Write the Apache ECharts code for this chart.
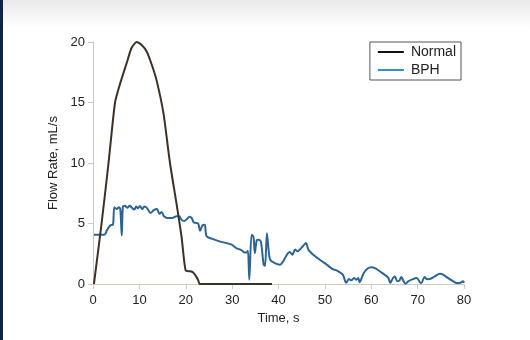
<!DOCTYPE html>
<html>
<head>
<meta charset="utf-8">
<style>
  html, body { margin: 0; padding: 0; background: #ffffff; }
  #chart { width: 530px; height: 340px; }
</style>
<script src="https://cdn.jsdelivr.net/npm/echarts@6/dist/echarts.min.js"></script>
</head>
<body>
<div id="chart"></div>
<script>
// Uroflowmetry curves: flow rate (mL/s) against time (s)
const normalTime = [0.2, 1.85, 3.35, 4.75, 5.8, 7.3, 8.3, 9.4, 10.5, 11.6, 12.6, 13.7, 15.2, 16.6, 18.0, 19.1, 20.0, 21.0, 21.6, 22.2, 22.7, 23.0, 38.6];
const normalFlow = [0, 5, 10, 15, 16.5, 18.3, 19.5, 20, 19.75, 19.2, 18.2, 16.85, 14.1, 10, 6.66, 3.9, 1.1, 1.05, 0.95, 0.65, 0.3, 0, 0];

const bphTime = [0.2, 2.4, 3.1, 3.8, 4.3, 4.6, 5.1, 5.6, 5.9, 6.2, 6.45, 6.9, 7.4, 7.9, 8.4, 8.9, 9.3, 9.7, 10.1, 10.6, 11.1, 11.7,
  12.4, 13.1, 13.8, 14.3, 14.8, 15.3, 16.0, 17.1, 18.0, 18.6, 19.1, 19.7, 20.2, 20.8, 21.3, 21.7, 22.2, 22.7, 23.1, 23.6, 24.1,
  24.5, 25.9, 27.3, 28.8, 29.9, 30.9, 32.0, 32.7, 33.1, 33.4, 33.7, 34.2, 34.6, 34.9, 35.3, 35.7, 36.2, 36.8, 37.1, 37.5, 37.9,
  38.2, 39.2, 40.3, 41.2, 41.7, 42.4, 43.0, 43.6, 44.1, 44.6, 45.2, 45.9, 46.5, 47.5, 48.9, 50.4, 51.5, 52.9, 53.9, 54.6, 55.2,
  55.7, 56.3, 56.8, 57.2, 57.5, 58.3, 59.1, 60.0, 61.0, 61.8, 62.9, 63.7, 64.1, 64.7, 65.1, 65.6, 66.1, 66.5, 67.0, 67.4, 67.9,
  68.7, 69.8, 70.5, 70.8, 71.5, 72.0, 72.6, 73.7, 74.8, 75.5, 76.5, 77.7, 78.4, 79.1, 79.8, 80.0];
const bphFlow = [4.07, 4.07, 4.5, 4.87, 4.9, 6.35, 6.2, 6.35, 6.1, 4.0, 6.4, 6.46, 6.3, 6.46, 6.3, 6.15, 6.4, 6.25, 6.45, 6.2, 6.4, 6.25,
  5.86, 6.1, 6.2, 5.8, 5.95, 5.6, 5.45, 5.45, 5.6, 5.6, 5.3, 5.2, 5.35, 5.55, 5.45, 5.1, 5.05, 4.98, 4.4, 4.85, 4.9,
  3.95, 3.71, 3.52, 3.38, 3.25, 2.97, 2.8, 2.6, 2.6, 2.75, 0.36, 4.07, 3.9, 2.56, 3.6, 3.66, 3.5, 1.6, 1.5, 4.2, 2.7,
  2.0, 1.73, 1.6, 2.0, 2.35, 2.65, 2.42, 2.85, 2.7, 2.85, 3.1, 3.38, 2.8, 2.42, 2.0, 1.6, 1.28, 1.05, 0.75, 0.1, 0.41,
  0.3, 0.5, 0.35, 0.5, 0.15, 0.85, 1.24, 1.38, 1.27, 1.05, 0.77, 0.5, 0.08, 0.5, 0.63, 0.22, 0.3, 0.58, 0.2, 0.03, 0.2,
  0.36, 0.5, 0.14, 0.08, 0.58, 0.4, 0.41, 0.63, 0.85, 0.77, 0.5, 0.22, 0.08, 0.08, 0.22, 0.1];

const seriesNames = ['Normal', 'BPH'];
const xTicks = [0, 80, 10];   // min, max, step
const yTicks = [0, 20, 5];

const pairs = (xs, ys) => xs.map((x, i) => [x, ys[i]]);

const chart = echarts.init(document.getElementById('chart'), null, { renderer: 'canvas' });
const axisGrey = '#cdc9bd';
const textFont = '"Liberation Sans", Arial, sans-serif';

chart.setOption({
  backgroundColor: '#ffffff',
  animation: false,
  graphic: [
    {
      type: 'rect', left: 0, top: 0, z: -10,
      shape: { width: 530, height: 28 },
      style: {
        fill: new echarts.graphic.LinearGradient(0, 0, 0, 1, [
          { offset: 0, color: '#e9e9e9' },
          { offset: 1, color: '#ffffff' }
        ])
      }
    },
    {
      type: 'rect', left: 0, top: 0, z: -9,
      shape: { width: 3, height: 340 },
      style: { fill: '#0e2442' }
    }
  ],
  grid: { left: 93, right: 66, top: 42, bottom: 56, containLabel: false },
  legend: {
    right: 69, top: 42,
    orient: 'vertical',
    padding: [3, 5, 3, 8],
    itemGap: 4,
    itemWidth: 26, itemHeight: 2,
    icon: 'rect',
    borderColor: '#555555', borderWidth: 1,
    textStyle: { fontFamily: textFont, fontSize: 14, color: '#222222', padding: [0, 0, 0, 2] },
    data: [
      { name: seriesNames[0], itemStyle: { color: '#111111' } },
      { name: seriesNames[1], itemStyle: { color: '#2f8fd0' } }
    ]
  },
  xAxis: {
    type: 'value',
    min: xTicks[0], max: xTicks[1], interval: xTicks[2],
    name: 'Time, s',
    nameLocation: 'middle', nameGap: 27,
    nameTextStyle: { fontFamily: textFont, fontSize: 13, color: '#222222' },
    axisLine: { show: true, lineStyle: { color: axisGrey, width: 1 } },
    axisTick: { show: true, length: 5, lineStyle: { color: axisGrey } },
    axisLabel: { fontFamily: textFont, fontSize: 13, color: '#222222', margin: 10 },
    splitLine: { show: false }
  },
  yAxis: {
    type: 'value',
    min: yTicks[0], max: yTicks[1], interval: yTicks[2],
    name: 'Flow Rate, mL/s',
    nameLocation: 'middle', nameGap: 32,
    nameTextStyle: { fontFamily: textFont, fontSize: 13, color: '#222222' },
    axisLine: { show: true, lineStyle: { color: axisGrey, width: 1 } },
    axisTick: { show: true, length: 5, lineStyle: { color: axisGrey } },
    axisLabel: { fontFamily: textFont, fontSize: 13, color: '#222222', margin: 8 },
    splitLine: { show: false }
  },
  series: [
    {
      name: seriesNames[0],
      type: 'line',
      data: pairs(normalTime, normalFlow),
      showSymbol: false,
      smooth: 0.2,
      z: 3,
      lineStyle: { color: '#3b3226', width: 2 },
      itemStyle: { color: '#3b3226' }
    },
    {
      name: seriesNames[1],
      type: 'line',
      data: pairs(bphTime, bphFlow),
      showSymbol: false,
      smooth: 0.3,
      z: 2,
      lineStyle: { color: '#2c6594', width: 2 },
      itemStyle: { color: '#2c6594' }
    }
  ]
});
</script>
</body>
</html>
